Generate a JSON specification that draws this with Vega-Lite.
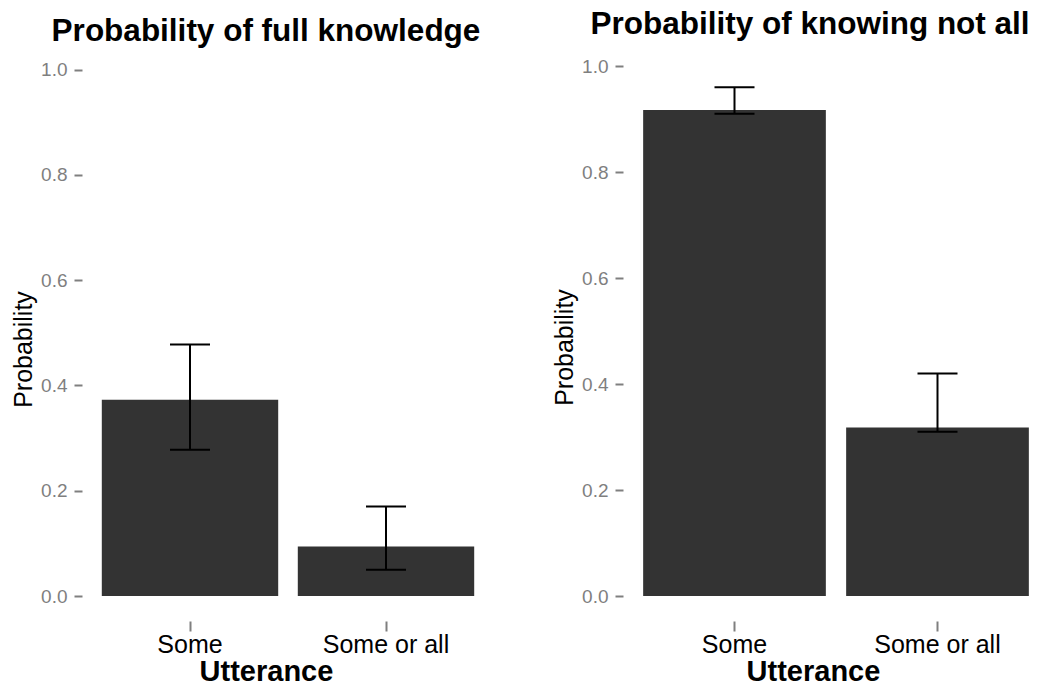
{
  "$schema": "https://vega.github.io/schema/vega-lite/v6.json",
  "padding": {"left": 11, "top": 8, "right": 0, "bottom": 0},
  "background": "white",
  "config": {
    "view": {"stroke": null},
    "font": "Liberation Sans",
    "concat": {"spacing": 68},
    "axis": {"domain": false, "grid": false}
  },
  "datasets": {
    "full": [
      {"utterance": "Some", "prob": 0.373, "lo": 0.278, "hi": 0.478},
      {"utterance": "Some or all", "prob": 0.094, "lo": 0.05, "hi": 0.17}
    ],
    "notall": [
      {"utterance": "Some", "prob": 0.917, "lo": 0.91, "hi": 0.96},
      {"utterance": "Some or all", "prob": 0.318, "lo": 0.31, "hi": 0.42}
    ]
  },
  "hconcat": [
    {
      "data": {"name": "full"},
      "title": {"text": "Probability of full knowledge", "fontSize": 31.5, "fontWeight": "bold", "anchor": "middle", "baseline": "alphabetic", "offset": -12, "dx": -22, "color": "black"},
      "width": 392,
      "height": 530,
      "encoding": {
        "x": {"field": "utterance", "type": "nominal", "sort": null,
          "scale": {"paddingInner": 0.1, "paddingOuter": 0.05},
          "axis": {"offset": 25, "tickSize": 10, "tickWidth": 2, "tickColor": "#7f7f7f", "labelFontSize": 25, "labelColor": "black", "labelPadding": 1, "labelAngle": 0, "title": "Utterance", "titleFontSize": 29, "titleFontWeight": "bold", "titleColor": "black", "titlePadding": 0, "titleX": 174}
        }
      },
      "layer": [
        {"mark": {"type": "bar", "color": "#333333"},
          "encoding": {"y": {"field": "prob", "type": "quantitative",
            "scale": {"domain": [0, 1.007], "nice": false},
            "axis": {"values": [0, 0.2, 0.4, 0.6, 0.8, 1.0], "format": ".1f", "labelColor": "#7f7f7f", "labelFontSize": 19, "tickColor": "#7f7f7f", "tickSize": 8, "tickWidth": 2, "offset": 10, "labelPadding": 7, "title": "Probability", "titleFontSize": 25, "titleFontWeight": "normal", "titleColor": "black", "titlePadding": 4, "titleY": 283}}}},
        {"mark": {"type": "rule", "color": "black", "strokeWidth": 2},
          "encoding": {"y": {"field": "lo", "type": "quantitative"}, "y2": {"field": "hi"}}},
        {"mark": {"type": "tick", "color": "black", "size": 40, "thickness": 2, "opacity": 1},
          "encoding": {"y": {"field": "lo", "type": "quantitative"}}},
        {"mark": {"type": "tick", "color": "black", "size": 40, "thickness": 2, "opacity": 1},
          "encoding": {"y": {"field": "hi", "type": "quantitative"}}}
      ]
    },
    {
      "data": {"name": "notall"},
      "title": {"text": "Probability of knowing not all", "fontSize": 31.5, "fontWeight": "bold", "anchor": "middle", "baseline": "alphabetic", "offset": -8, "dx": -26, "color": "black"},
      "width": 406,
      "height": 530,
      "encoding": {
        "x": {"field": "utterance", "type": "nominal", "sort": null,
          "scale": {"paddingInner": 0.1, "paddingOuter": 0.05},
          "axis": {"offset": 25, "tickSize": 10, "tickWidth": 2, "tickColor": "#7f7f7f", "labelFontSize": 25, "labelColor": "black", "labelPadding": 1, "labelAngle": 0, "title": "Utterance", "titleFontSize": 29, "titleFontWeight": "bold", "titleColor": "black", "titlePadding": 0, "titleX": 180}
        }
      },
      "layer": [
        {"mark": {"type": "bar", "color": "#333333"},
          "encoding": {"y": {"field": "prob", "type": "quantitative",
            "scale": {"domain": [0, 1], "nice": false},
            "axis": {"values": [0, 0.2, 0.4, 0.6, 0.8, 1.0], "format": ".1f", "labelColor": "#7f7f7f", "labelFontSize": 19, "tickColor": "#7f7f7f", "tickSize": 8, "tickWidth": 2, "offset": 10, "labelPadding": 7, "title": "Probability", "titleFontSize": 25, "titleFontWeight": "normal", "titleColor": "black", "titlePadding": 4, "titleY": 281}}}},
        {"mark": {"type": "rule", "color": "black", "strokeWidth": 2},
          "encoding": {"y": {"field": "lo", "type": "quantitative"}, "y2": {"field": "hi"}}},
        {"mark": {"type": "tick", "color": "black", "size": 40, "thickness": 2, "opacity": 1},
          "encoding": {"y": {"field": "lo", "type": "quantitative"}}},
        {"mark": {"type": "tick", "color": "black", "size": 40, "thickness": 2, "opacity": 1},
          "encoding": {"y": {"field": "hi", "type": "quantitative"}}}
      ]
    }
  ]
}
